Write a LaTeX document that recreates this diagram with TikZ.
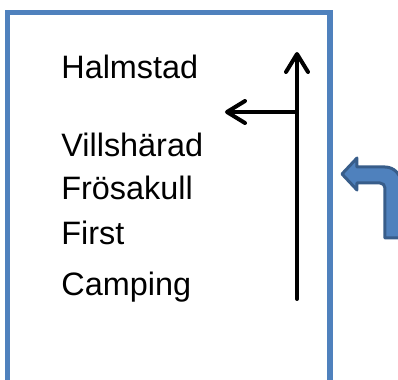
\documentclass[tikz,border=0pt]{standalone}
\usepackage{fontspec}
\setmainfont{Liberation Sans}
\usepackage{xcolor}
\definecolor{sign-blue}{RGB}{79,129,189}
\definecolor{sign-blue-dark}{RGB}{56,93,138}
\usepackage{tikz}
\usetikzlibrary{arrows.meta,positioning}

\begin{document}
\begin{tikzpicture}[
    x=0.5pt, y=-0.5pt,
    every node/.style={inner sep=0pt, anchor=base west,
        font=\fontsize{16.2}{19}\selectfont},
    signarrow/.style={line width=2pt, line cap=round,
        -{Straight Barb[round, length=9pt, width=11pt]}}
]

% Picture area
\clip (0,0) rectangle (398,380);

% Sign frame, open at the bottom
\draw[sign-blue, line width=2.6pt]
    (7.5,392) -- (7.5,12.5) -- (330,12.5) -- (330,392);

% Place names
\node (halmstad) at (61,79) {Halmstad};
\node (villsharad) at (61,156) {Villshärad};
\node (frosakull) at (61,200) {Frösakull};
\node (first) at (61,245) {First};
\node (camping) at (61,296) {Camping};

% Road post and branch
\coordinate (post foot) at (297,299);
\coordinate (post top) at (297,52);
\coordinate (branch) at (297,112);
\coordinate (branch tip) at (225,112);
\draw[signarrow] (post foot) -- (post top);
\draw[signarrow] (branch) -- (branch tip);

% Turn-left arrow
\draw[sign-blue-dark, fill=sign-blue, line width=1.5pt, line join=round]
    (385,238) [rounded corners=2.5pt] -- (385,183) [sharp corners]
    -- (357,183) -- (357,190) -- (342,174) -- (357,158) -- (357,167)
    [rounded corners=8pt] -- (401,167) [sharp corners] -- (401,238) -- cycle;

\end{tikzpicture}
\end{document}
